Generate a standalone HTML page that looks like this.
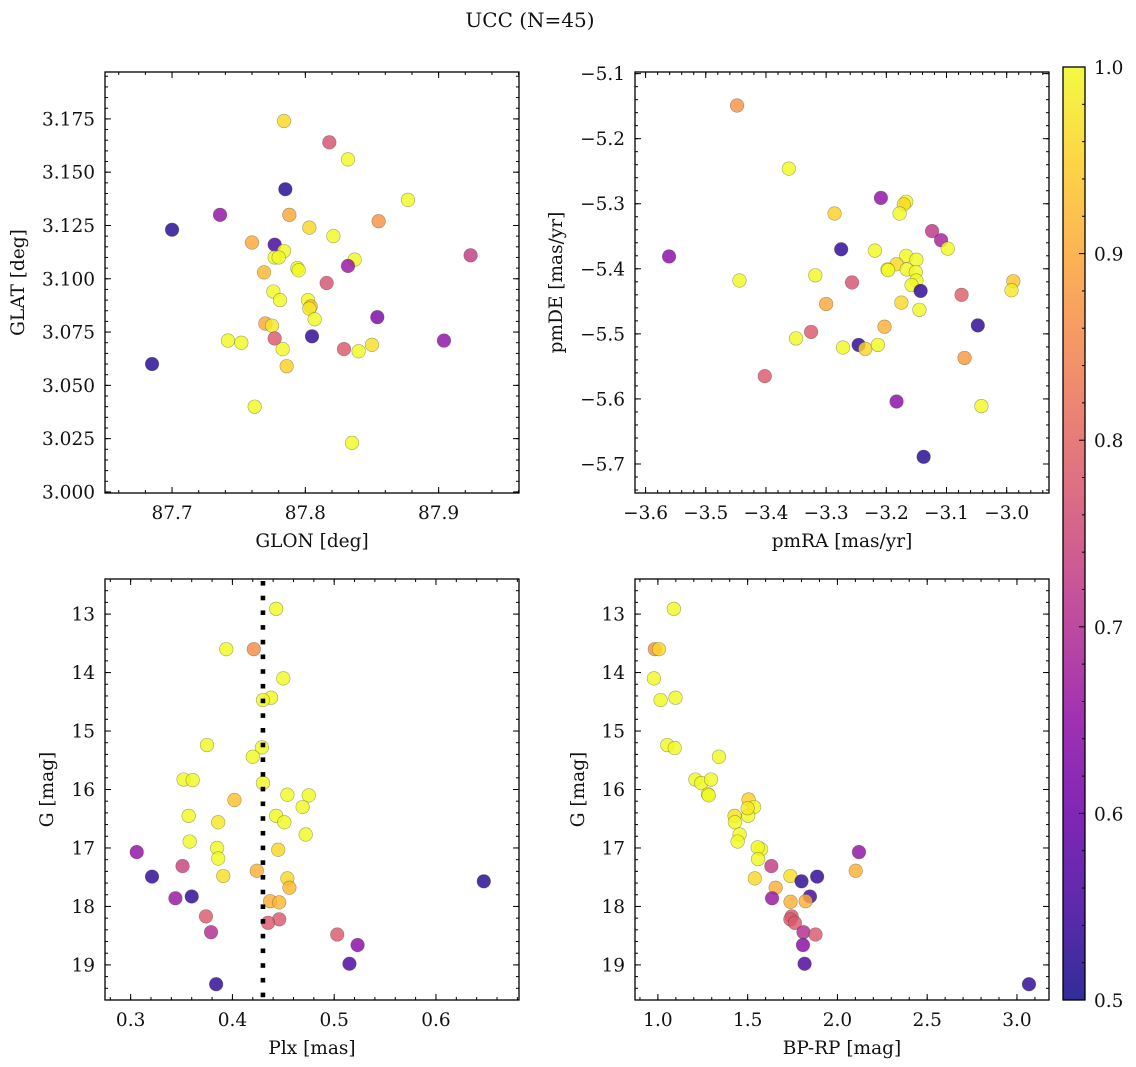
<!DOCTYPE html>
<html><head><meta charset="utf-8">
<style>
html,body{margin:0;padding:0;background:#fff;}
svg{display:block;}
text{font-family:"DejaVu Serif","Liberation Serif",serif;fill:#111;}
</style></head>
<body>
<svg id="fig" width="1136" height="1067" viewBox="0 0 1136 1067" xmlns="http://www.w3.org/2000/svg">
<text x="530" y="27" font-size="20" text-anchor="middle">UCC (N=45)</text>
</svg>
<script>
// Panel 1: GLON / GLAT
const glonX=[87.784,87.818,87.832,87.785,87.877,87.736,87.788,87.855,87.700,87.803,87.821,87.760,87.777,87.784,87.777,87.780,87.924,87.837,87.832,87.794,87.795,87.769,87.816,87.776,87.781,87.802,87.804,87.803,87.807,87.854,87.770,87.775,87.904,87.742,87.752,87.777,87.805,87.829,87.840,87.850,87.783,87.685,87.786,87.762,87.835];
const glatY=[3.174,3.164,3.156,3.142,3.137,3.130,3.130,3.127,3.123,3.124,3.120,3.117,3.116,3.113,3.110,3.110,3.111,3.109,3.106,3.105,3.104,3.103,3.098,3.094,3.090,3.090,3.087,3.086,3.081,3.082,3.079,3.078,3.071,3.071,3.070,3.072,3.073,3.067,3.066,3.069,3.067,3.060,3.059,3.040,3.023];
const p1=[0.96,0.77,1.0,0.52,1.0,0.65,0.9,0.87,0.52,0.96,1.0,0.9,0.55,1.0,1.0,1.0,0.73,1.0,0.66,1.0,1.0,0.92,0.77,1.0,1.0,1.0,0.93,0.98,1.0,0.62,0.9,0.98,0.65,1.0,1.0,0.78,0.53,0.78,1.0,0.97,1.0,0.52,0.95,1.0,1.0];
// Panel 2: pmRA / pmDE
const pmraX=[-3.448,-3.362,-3.209,-3.167,-3.171,-3.178,-3.286,-3.124,-3.109,-3.098,-3.561,-3.275,-3.219,-3.167,-3.150,-3.183,-3.198,-3.197,-3.166,-3.151,-3.150,-3.158,-3.444,-3.318,-3.257,-3.143,-2.989,-2.992,-3.075,-3.175,-3.300,-3.145,-3.048,-3.203,-3.325,-3.350,-3.272,-3.246,-3.235,-3.214,-3.070,-3.402,-3.183,-3.042,-3.138];
const pmdeY=[-5.149,-5.246,-5.291,-5.297,-5.301,-5.315,-5.315,-5.342,-5.356,-5.369,-5.381,-5.370,-5.372,-5.380,-5.386,-5.393,-5.401,-5.402,-5.401,-5.405,-5.418,-5.425,-5.418,-5.410,-5.421,-5.434,-5.419,-5.433,-5.440,-5.452,-5.454,-5.463,-5.487,-5.489,-5.497,-5.507,-5.521,-5.517,-5.523,-5.517,-5.537,-5.565,-5.604,-5.611,-5.689];
const p2=[0.87,1.0,0.65,1.0,0.96,1.0,0.95,0.72,0.68,1.0,0.64,0.53,1.0,1.0,1.0,0.96,1.0,1.0,1.0,1.0,1.0,1.0,1.0,1.0,0.77,0.53,0.94,0.98,0.79,0.96,0.9,1.0,0.53,0.91,0.78,1.0,1.0,0.53,0.96,1.0,0.88,0.78,0.64,1.0,0.52];
// Panel 3: Plx / G
const plxX=[0.443,0.394,0.421,0.450,0.438,0.430,0.375,0.429,0.420,0.352,0.361,0.430,0.454,0.475,0.402,0.469,0.357,0.443,0.451,0.386,0.472,0.358,0.385,0.445,0.306,0.386,0.351,0.424,0.391,0.321,0.454,0.647,0.456,0.344,0.360,0.437,0.446,0.374,0.446,0.435,0.379,0.503,0.523,0.515,0.384];
const g3Y=[12.91,13.60,13.60,14.10,14.43,14.47,15.24,15.28,15.44,15.83,15.84,15.89,16.09,16.10,16.18,16.30,16.45,16.45,16.56,16.56,16.77,16.89,17.00,17.03,17.07,17.18,17.31,17.39,17.48,17.49,17.52,17.57,17.68,17.86,17.83,17.91,17.93,18.17,18.22,18.28,18.44,18.48,18.66,18.98,19.33];
const p3=[1.0,1.0,0.86,1.0,1.0,1.0,1.0,1.0,1.0,1.0,1.0,1.0,1.0,1.0,0.93,1.0,1.0,1.0,1.0,0.98,1.0,1.0,1.0,0.96,0.65,1.0,0.74,0.91,0.97,0.53,0.96,0.52,0.92,0.66,0.53,0.91,0.92,0.78,0.78,0.78,0.7,0.78,0.64,0.56,0.53];
const plxRef=[0.43];
// Panel 4: BP-RP / G
const bprpX=[1.089,0.983,1.006,0.978,1.098,1.015,1.052,1.094,1.340,1.209,1.242,1.296,1.279,1.283,1.505,1.536,1.427,1.503,1.429,1.455,1.444,1.575,1.556,2.120,1.558,1.632,2.102,1.738,1.887,1.540,1.800,1.656,1.636,1.847,1.739,1.823,1.745,1.738,1.763,1.811,1.878,1.808,1.817,3.067,1.500];
const g4Y=[12.91,13.60,13.60,14.10,14.43,14.47,15.24,15.29,15.44,15.83,15.89,15.83,16.08,16.10,16.17,16.30,16.45,16.45,16.56,16.77,16.89,17.02,16.99,17.07,17.19,17.31,17.39,17.48,17.49,17.52,17.57,17.68,17.86,17.83,17.92,17.91,18.17,18.22,18.28,18.44,18.48,18.66,18.98,19.33,16.32];
const p4=[1.0,0.87,0.96,1.0,1.0,1.0,1.0,1.0,1.0,1.0,1.0,1.0,1.0,1.0,0.95,1.0,0.97,1.0,1.0,1.0,1.0,1.0,1.0,0.65,1.0,0.73,0.91,0.97,0.53,0.96,0.53,0.91,0.66,0.55,0.91,0.91,0.78,0.78,0.78,0.7,0.78,0.64,0.56,0.53,0.98];
// Tick labels
const ticks1X=[87.7,87.8,87.9], ticks1Y=[3.000,3.025,3.050,3.075,3.100,3.125,3.150,3.175];
const ticks2X=[-3.6,-3.5,-3.4,-3.3,-3.2,-3.1,-3.0], ticks2Y=[-5.7,-5.6,-5.5,-5.4,-5.3,-5.2,-5.1];
const ticks3X=[0.3,0.4,0.5,0.6], ticksGY=[13,14,15,16,17,18,19];
const ticks4X=[1.0,1.5,2.0,2.5,3.0];
const cbTicks=[0.5,0.6,0.7,0.8,0.9,1.0];

const NS="http://www.w3.org/2000/svg";
const svg=document.getElementById('fig');
const FS=18.5;
function mk(tag,attrs,parent){const e=document.createElementNS(NS,tag);for(const k in attrs)e.setAttribute(k,attrs[k]);(parent||svg).appendChild(e);return e;}
const stops=[[13,8,135],[65,4,157],[106,0,168],[143,13,164],[177,42,144],[204,71,120],[225,100,98],[242,132,75],[252,166,54],[252,206,37],[240,249,33]];
function plasma(t){t=Math.max(0,Math.min(1,t))*10;const i=Math.min(9,Math.floor(t)),f=t-i;const a=stops[i],b=stops[i+1];return 'rgb('+a.map((v,k)=>Math.round(v+(b[k]-v)*f)).join(',')+')';}
function pcol(p){return plasma((p-0.5)/0.5);}
function fmt(v,d){return (v<0?'\u2212':'')+Math.abs(v).toFixed(d);}

function panel(o){
  const g=mk('g',{});
  
  
  const sx=v=>o.x0+(v-o.xd[0])/(o.xd[1]-o.xd[0])*(o.x1-o.x0);
  const sy=v=>o.inv? o.y0+(v-o.yd[0])/(o.yd[1]-o.yd[0])*(o.y1-o.y0) : o.y1-(v-o.yd[0])/(o.yd[1]-o.yd[0])*(o.y1-o.y0);
  const pts=mk('g',{},g);
  for(let i=0;i<o.xs.length;i++){
    const c=mk('circle',{cx:sx(o.xs[i]),cy:sy(o.ys[i]),r:6.8,fill:pcol(o.ps[i]),'fill-opacity':0.82,stroke:'rgba(60,60,40,0.45)','stroke-width':0.6},pts);
    
    
  }
  if(o.vline){for(const v of o.vline){
    const lg=mk('g',{fill:'#000'},g);
    
    
    const x=sx(v);
    for(let y=o.y0+2;y<o.y1;y+=14.7){mk('rect',{x:x-2.3,y:y,width:4.6,height:Math.min(4.6,o.y1-y)},lg);}
  }}
  const tk=mk('g',{stroke:'#000','stroke-width':1},g);
  function minors(d,step,fn){const s=Math.ceil(d[0]/step-1e-6);for(let k=s;k*step<=d[1]+1e-9;k++)fn(k*step);}
  minors(o.xd,o.xm,v=>{const x=sx(v);mk('line',{x1:x,x2:x,y1:o.y1,y2:o.y1-3},tk);mk('line',{x1:x,x2:x,y1:o.y0,y2:o.y0+3},tk);});
  minors(o.yd,o.ym,v=>{const y=sy(v);mk('line',{x1:o.x0,x2:o.x0+3,y1:y,y2:y},tk);mk('line',{x1:o.x1,x2:o.x1-3,y1:y,y2:y},tk);});
  for(const v of o.tx){const x=sx(v);mk('line',{x1:x,x2:x,y1:o.y1,y2:o.y1-6},tk);mk('line',{x1:x,x2:x,y1:o.y0,y2:o.y0+6},tk);
    const t=mk('text',{x:x,y:o.y1+26,'font-size':FS,'text-anchor':'middle'},g);t.textContent=fmt(v,o.xdec);
    
    }
  for(const v of o.ty){const y=sy(v);mk('line',{x1:o.x0,x2:o.x0+6,y1:y,y2:y},tk);mk('line',{x1:o.x1,x2:o.x1-6,y1:y,y2:y},tk);
    const t=mk('text',{x:o.x0-10,y:y+6.5,'font-size':FS,'text-anchor':'end'},g);t.textContent=fmt(v,o.ydec);
    
    }
  mk('rect',{x:o.x0,y:o.y0,width:o.x1-o.x0,height:o.y1-o.y0,fill:'none',stroke:'#000','stroke-width':1.3},g);
  const xl=mk('text',{x:(o.x0+o.x1)/2,y:o.y1+54,'font-size':FS,'text-anchor':'middle'},g);xl.textContent=o.xlab;
  
  
  const yl=mk('text',{x:0,y:0,'font-size':FS,'text-anchor':'middle',transform:'translate('+o.ylx+','+((o.y0+o.y1)/2)+') rotate(-90)'},g);yl.textContent=o.ylab;
  
  
}
panel({name:'glon-glat-panel',x0:105,x1:519,y0:72,y1:493,xd:[87.6497,87.9603],yd:[2.9995,3.1970],xs:glonX,ys:glatY,ps:p1,tx:ticks1X,ty:ticks1Y,xm:0.02,ym:0.005,xdec:1,ydec:3,xlab:'GLON [deg]',ylab:'GLAT [deg]',ylx:24});
panel({name:'pm-panel',x0:635,x1:1049,y0:72,y1:493,xd:[-3.6176,-2.9297],yd:[-5.7446,-5.0975],xs:pmraX,ys:pmdeY,ps:p2,tx:ticks2X,ty:ticks2Y,xm:0.02,ym:0.02,xdec:1,ydec:1,xlab:'pmRA [mas/yr]',ylab:'pmDE [mas/yr]',ylx:562});
panel({name:'plx-g-panel',x0:105,x1:519,y0:579,y1:1000,inv:true,xd:[0.2748,0.6816],yd:[12.40,19.60],xs:plxX,ys:g3Y,ps:p3,tx:ticks3X,ty:ticksGY,xm:0.02,ym:0.2,xdec:1,ydec:0,xlab:'Plx [mas]',ylab:'G [mag]',ylx:53,vline:plxRef});
panel({name:'cmd-panel',x0:635,x1:1049,y0:579,y1:1000,inv:true,xd:[0.8725,3.1785],yd:[12.40,19.60],xs:bprpX,ys:g4Y,ps:p4,tx:ticks4X,ty:ticksGY,xm:0.1,ym:0.2,xdec:1,ydec:0,xlab:'BP-RP [mag]',ylab:'G [mag]',ylx:584});

const cb=mk('g',{});


const defs=mk('defs',{},cb);const lgr=mk('linearGradient',{id:'cbg',x1:0,y1:1,x2:0,y2:0},defs);
for(let i=0;i<=20;i++){mk('stop',{offset:(i/20),'stop-color':plasma(i/20),'stop-opacity':0.85},lgr);}
const cy0=67,cy1=1000,cx0=1063,cx1=1085;
mk('rect',{x:cx0,y:cy0,width:cx1-cx0,height:cy1-cy0,fill:'url(#cbg)',stroke:'#000','stroke-width':1.3},cb);
const cys=v=>cy1-(v-0.5)/0.5*(cy1-cy0);
for(let k=25;k<=50;k++){const v=k/50,y=cys(v);mk('line',{x1:cx1,x2:cx1-(k%5===0?6:3),y1:y,y2:y,stroke:'#000','stroke-width':1},cb);}
for(const v of cbTicks){const t=mk('text',{x:cx1+9,y:cys(v)+7,'font-size':FS},cb);t.textContent=v.toFixed(1);
  
  }
</script>
</body></html>
